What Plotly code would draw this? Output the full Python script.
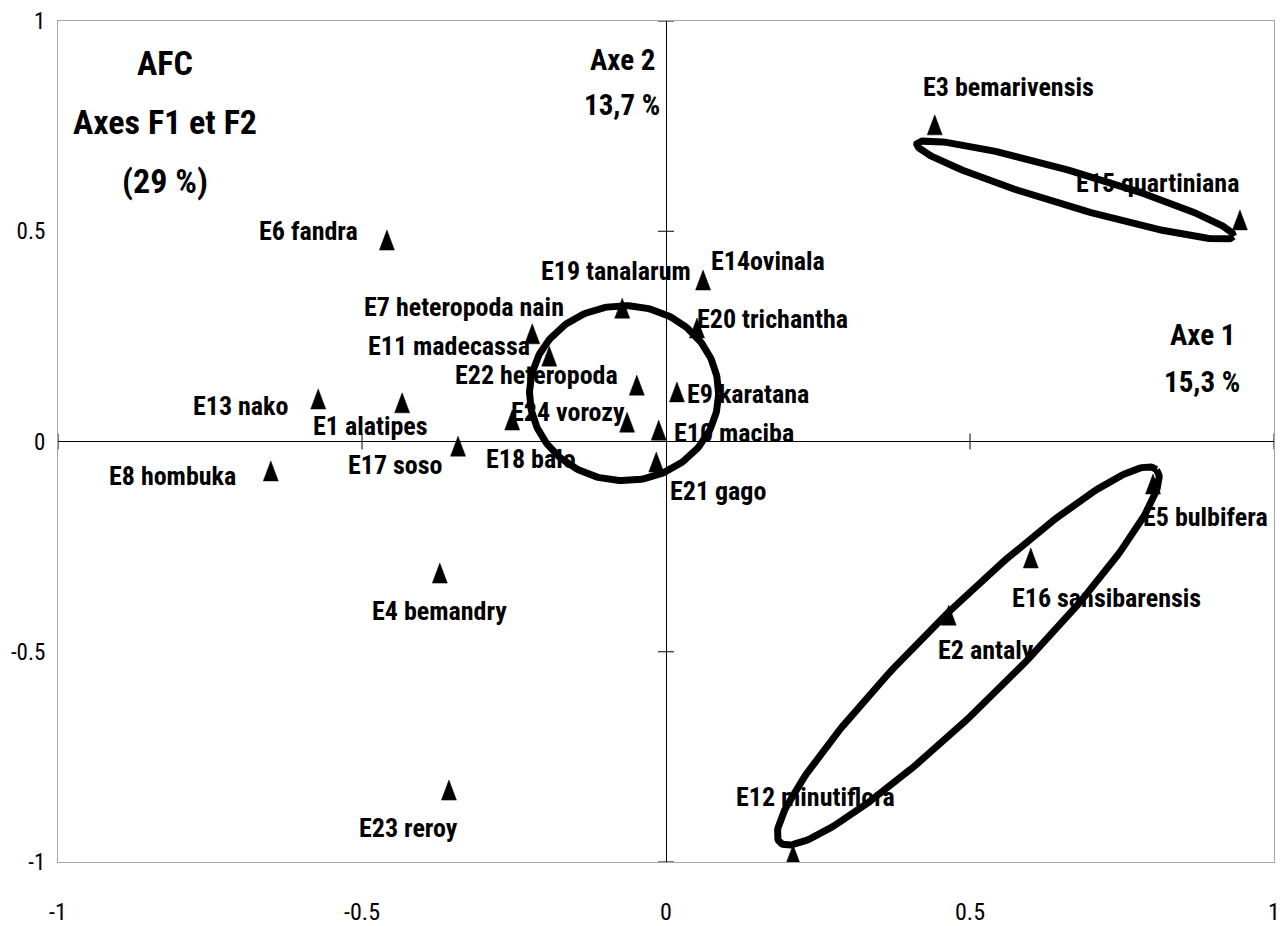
import numpy as np
import plotly.graph_objects as go

# ---------------- data ----------------
labels = ["E1 alatipes", "E2 antaly", "E3 bemarivensis", "E4 bemandry", "E5 bulbifera",
          "E6 fandra", "E7 heteropoda nain", "E8 hombuka", "E9 karatana", "E10 maciba",
          "E11 madecassa", "E12 minutiflora", "E13 nako", "E14ovinala", "E15 quartiniana",
          "E16 sansibarensis", "E17 soso", "E18 balo", "E19 tanalarum", "E20 trichantha",
          "E21 gago", "E22 heteropoda", "E23 reroy", "E24 vorozy"]
f1 = [-0.434, 0.465, 0.442, -0.372, 0.801,
      -0.459, -0.220, -0.650, 0.018, -0.012,
      -0.192, 0.209, -0.572, 0.061, 0.944,
      0.600, -0.342, -0.253, -0.072, 0.051,
      -0.016, -0.048, -0.357, -0.064]
f2 = [0.092, -0.413, 0.753, -0.313, -0.101,
      0.479, 0.256, -0.070, 0.118, 0.027,
      0.203, -0.983, 0.101, 0.384, 0.527,
      -0.277, -0.011, 0.051, 0.317, 0.270,
      -0.049, 0.134, -0.829, 0.046]

tick_vals = [-1, -0.5, 0, 0.5, 1]
tick_text = ["-1", "-0.5", "0", "0.5", "1"]
cross_ticks = [-1, -0.5, 0.5, 1]

# label offsets in screen pixels (dx right, dy down) -- layout, not data
label_offsets = {
    "E1 alatipes": (-32, 23), "E2 antaly": (37, 35), "E3 bemarivensis": (74, -38),
    "E4 bemandry": (0, 38), "E5 bulbifera": (52, 33), "E6 fandra": (-78, -9),
    "E7 heteropoda nain": (-68, -27), "E8 hombuka": (-98, 5), "E9 karatana": (71, 2),
    "E10 maciba": (75, 3), "E11 madecassa": (-100, -10), "E12 minutiflora": (22, -58),
    "E13 nako": (-77, 7), "E14ovinala": (65, -19), "E15 quartiniana": (-82, -37),
    "E16 sansibarensis": (76, 40), "E17 soso": (-63, 19), "E18 balo": (19, 39),
    "E19 tanalarum": (-6, -37), "E20 trichantha": (75, -9), "E21 gago": (62, 29),
    "E22 heteropoda": (-100, -10), "E23 reroy": (-40, 38), "E24 vorozy": (-59, -10),
}

# grouping ellipses: centre (data), semi-axes (px), rotation (deg, screen ccw)
ellipses = [
    dict(cx=-0.069, cy=0.115, a=94.5, b=87.5, ang=0.0),
    dict(cx=0.673, cy=0.598, a=165.0, b=17.3, ang=-16.3),
    dict(cx=0.497, cy=-0.510, a=265.0, b=45.0, ang=44.7),
]

# ---------------- layout geometry ----------------
# the page body adds an 8px margin, so the figure is sized to fit the window
W, H = 1278, 918
ML, MR, MT, MB = 50, 12, 13, 64
PW, PH = W - ML - MR, H - MT - MB
SX = PW / 2.0   # px per data unit (x)
SY = PH / 2.0   # px per data unit (y)

FONT = "Liberation Sans Narrow, Arial Narrow, Roboto Condensed, Roboto, Arial, sans-serif"

fig = go.Figure()

# triangles (tall, like Excel markers) built around each data point
hw, hh = 7.5 / SX, 10.0 / SY
tx, ty = [], []
for x, y in zip(f1, f2):
    tx += [x - hw, x + hw, x, x - hw, None]
    ty += [y - hh, y - hh, y + hh, y - hh, None]
fig.add_trace(go.Scatter(x=tx, y=ty, mode="lines", fill="toself",
                         fillcolor="black", line=dict(color="black", width=0.5),
                         hoverinfo="skip", showlegend=False))
fig.add_trace(go.Scatter(x=f1, y=f2, mode="markers", marker=dict(size=1, opacity=0),
                         text=labels, hoverinfo="text", showlegend=False))

# ellipses
t = np.linspace(0, 2 * np.pi, 241)
for e in ellipses:
    th = np.deg2rad(e["ang"])
    px = e["a"] * np.cos(t) * np.cos(th) - e["b"] * np.sin(t) * np.sin(th)
    py = e["a"] * np.cos(t) * np.sin(th) + e["b"] * np.sin(t) * np.cos(th)
    fig.add_trace(go.Scatter(x=e["cx"] + px / SX, y=e["cy"] + py / SY, mode="lines",
                             line=dict(color="black", width=7), hoverinfo="skip",
                             showlegend=False, cliponaxis=False))

# point labels
for lab, x, y in zip(labels, f1, f2):
    dx, dy = label_offsets[lab]
    fig.add_annotation(x=x, y=y, text="<b>%s</b>" % lab, showarrow=False,
                       xshift=dx, yshift=-dy, xanchor="center", yanchor="middle",
                       font=dict(family=FONT, size=26, color="black"))

# cross ticks on the central axes
for v in cross_ticks:
    fig.add_shape(type="line", xref="x", yref="y", x0=v, x1=v, y0=-8, y1=8,
                  ysizemode="pixel", yanchor=0, line=dict(color="black", width=1))
    fig.add_shape(type="line", xref="x", yref="y", y0=v, y1=v, x0=-8, x1=8,
                  xsizemode="pixel", xanchor=0, line=dict(color="black", width=1))

# titles
def txt(x, y, s, size):
    fig.add_annotation(xref="paper", yref="paper", x=x, y=y, text="<b>%s</b>" % s,
                       showarrow=False, xanchor="center", yanchor="middle",
                       font=dict(family=FONT, size=size, color="black"))

txt(0.088, 0.950, "AFC", 34)
txt(0.088, 0.880, "Axes F1 et F2", 34)
txt(0.088, 0.810, "(29 %)", 34)
txt(0.464, 0.954, "Axe 2", 29)
txt(0.464, 0.900, "13,7 %", 29)
txt(0.941, 0.627, "Axe 1", 29)
txt(0.941, 0.571, "15,3 %", 29)

axis_common = dict(range=[-1, 1], tickvals=tick_vals, ticktext=tick_text,
                   showgrid=False, zeroline=True, zerolinecolor="black", zerolinewidth=1,
                   showline=True, mirror=True, linecolor="#a6a6a6", linewidth=1,
                   ticks="", fixedrange=True, automargin=False, ticklabeloverflow="allow")
fig.update_layout(
    width=W, height=H,
    margin=dict(l=ML, r=MR, t=MT, b=MB, pad=0, autoexpand=False),
    paper_bgcolor="white", plot_bgcolor="white",
    xaxis=dict(**axis_common, ticklabelstandoff=28,
               tickfont=dict(family=FONT, size=24, color="black")),
    yaxis=dict(**axis_common, ticklabelstandoff=7,
               tickfont=dict(family=FONT, size=23, color="black")),
    showlegend=False,
)

fig.write_html("out.html")
